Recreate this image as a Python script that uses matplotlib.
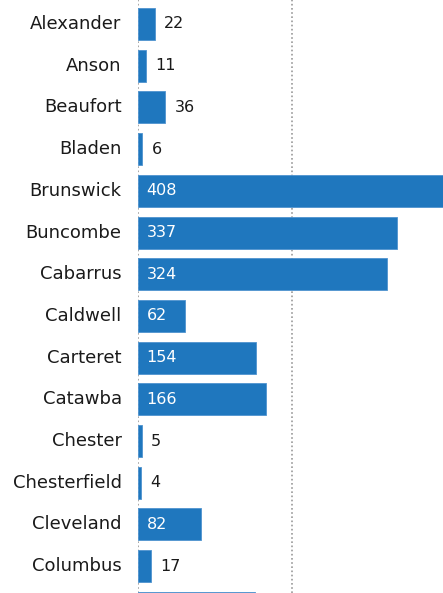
import matplotlib.pyplot as plt

# data (last row is cut off at the bottom edge)
counties = ["Alexander", "Anson", "Beaufort", "Bladen", "Brunswick",
            "Buncombe", "Cabarrus", "Caldwell", "Carteret", "Catawba",
            "Chester", "Chesterfield", "Cleveland", "Columbus", "Craven"]
values = [22, 11, 36, 6, 408, 337, 324, 62, 154, 166, 5, 4, 82, 17, 152]

BAR = "#1f77be"
W, H = 443, 593
PX = 0.77          # pixels per unit
X0 = 137.7         # pixel position of zero
ROW = 41.7         # pixels between rows
TOP = 24           # centre of first row


def main():
    fig = plt.figure(figsize=(W / 100, H / 100), dpi=100)
    ax = fig.add_axes([X0 / W, 0, 1 - X0 / W, 1])

    pos = list(range(len(counties)))
    ax.barh(pos, values, height=32 / ROW, color=BAR,
            edgecolor="#4f93cf", linewidth=0.6, zorder=2)

    ymax = (H - TOP) / ROW
    ax.set_xlim(0, (W - X0) / PX)
    ax.set_ylim(ymax, -TOP / ROW)

    for x in (0, 200):
        ax.axvline(x, color="#9a9a9a", linestyle=(0, (1, 1.5)),
                   linewidth=1.2, zorder=1)

    for i, (name, v) in enumerate(zip(counties, values)):
        if i > ymax:
            continue  # row falls below the visible area
        ax.text(-16 / PX, i, name, ha="right", va="center",
                fontsize=13, color="#1a1a1a", clip_on=False)
        if v >= 50:
            ax.text(9 / PX, i, str(v), ha="left", va="center",
                    fontsize=11.5, color="white", zorder=3)
        else:
            ax.text(v + 9.5 / PX, i, str(v), ha="left", va="center",
                    fontsize=11.5, color="#1a1a1a", zorder=3)

    ax.axis("off")
    fig.savefig("out.png", dpi=100)


if __name__ == "__main__":
    main()
